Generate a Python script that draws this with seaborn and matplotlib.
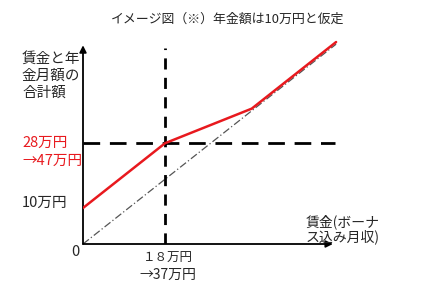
import matplotlib
matplotlib.use("Agg")
import matplotlib.pyplot as plt
import seaborn as sns
import pandas as pd

# Data (schematic, in 万円)
wage = [0, 18, 37, 55.5]
total = [10, 28, 37.6, 56.1]
diag_x = [0, 55.5]
diag_y = [0, 55.5]
marker_wage = 18
marker_total = 28

title = "イメージ図（※）年金額は10万円と仮定"
ylabel_lines = ["賃金と年", "金月額の", "合計額"]
xlabel_lines = ["賃金(ボーナ", "ス込み月収)"]
y_tick_10 = "10万円"
y_tick_28 = ["28万円", "→47万円"]
x_tick_18 = ["１８万円", "→37万円"]

sns.set_theme(style="white")
plt.rcParams['font.family'] = ['Noto Sans CJK JP', 'DejaVu Sans']

W, H = 443, 296
fig = plt.figure(figsize=(W / 100, H / 100), dpi=100)
# axes: origin at pixel (83,244); 4.56 px per x unit, 3.6 px per y unit
x0, y0 = 83, 244
xs, ys = 4.56, 3.6
xmax, ymax = 60, 60
ax = fig.add_axes([x0 / W, (H - y0) / H, xmax * xs / W, ymax * ys / H])
ax.set_xlim(0, xmax)
ax.set_ylim(0, ymax)
ax.axis("off")

df_red = pd.DataFrame({"x": wage, "y": total})
df_diag = pd.DataFrame({"x": diag_x, "y": diag_y})

sns.lineplot(data=df_diag, x="x", y="y", ax=ax, color="#555555", lw=0.9,
             linestyle=(0, (6, 2, 1, 2)), sort=False, zorder=2)
# dashed guides
ax.plot([marker_wage, marker_wage], [0, 54.5], color="black", lw=2,
        linestyle=(0, (4, 3)), zorder=3)
ax.plot([0, 55.3], [marker_total, marker_total], color="black", lw=2,
        linestyle=(0, (6, 3.5)), zorder=3)
sns.lineplot(data=df_red, x="x", y="y", ax=ax, color="#e8191e", lw=1.8,
             sort=False, zorder=5)

# axes with arrows
ax.annotate("", xy=(0, 55.2), xytext=(0, 0),
            arrowprops=dict(arrowstyle="-|>", color="black", lw=1.3,
                            mutation_scale=10, shrinkA=0, shrinkB=0))
ax.annotate("", xy=(54.8, 0), xytext=(0, 0),
            arrowprops=dict(arrowstyle="-|>", color="black", lw=1.3,
                            mutation_scale=10, shrinkA=0, shrinkB=0))

def px(x, y):
    return x / W, 1 - y / H

fs = 10.5
fig.text(*px(228, 19), title, ha="center", va="center", fontsize=9.3)
for i, line in enumerate(ylabel_lines):
    fig.text(*px(22, 59 + 17 * i), line, ha="left", va="center", fontsize=fs)
fig.text(*px(22, 143), y_tick_28[0], ha="left", va="center", fontsize=fs,
         color="#e8191e")
fig.text(*px(22, 161), y_tick_28[1], ha="left", va="center", fontsize=fs,
         color="#e8191e")
fig.text(*px(22, 203), y_tick_10, ha="left", va="center", fontsize=fs)
fig.text(*px(75, 252), "0", ha="center", va="center", fontsize=fs)
fig.text(*px(168, 258), x_tick_18[0], ha="center", va="center", fontsize=9)
fig.text(*px(168, 275), x_tick_18[1], ha="center", va="center", fontsize=10)
fig.text(*px(306, 222), xlabel_lines[0], ha="left", va="center", fontsize=10)
fig.text(*px(306, 237), xlabel_lines[1], ha="left", va="center", fontsize=10)

fig.savefig("out.png", dpi=100, facecolor="white")
